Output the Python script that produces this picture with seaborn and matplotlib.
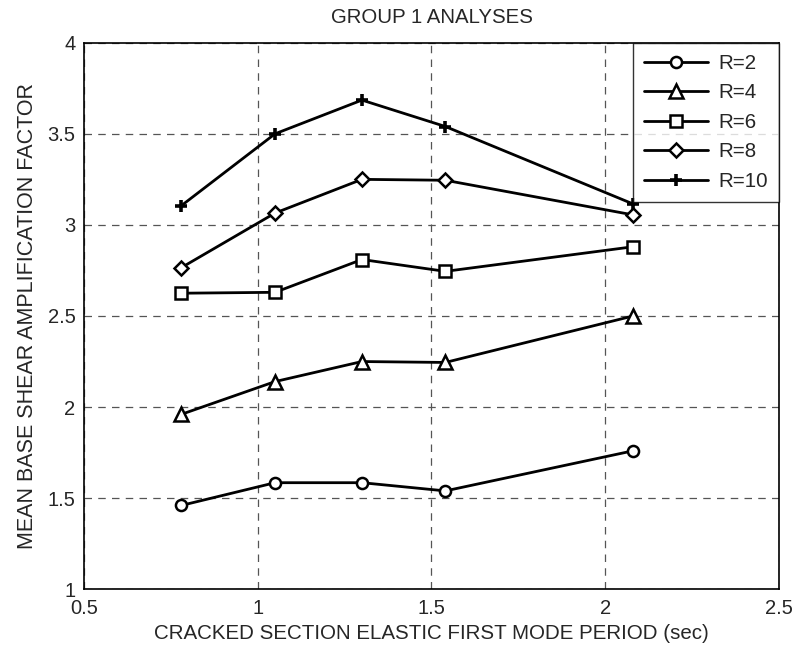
import matplotlib
matplotlib.use("Agg")
import matplotlib.pyplot as plt
import seaborn as sns

period = [0.78, 1.05, 1.30, 1.54, 2.08]
r2 = [1.46, 1.585, 1.585, 1.54, 1.76]
r4 = [1.96, 2.14, 2.25, 2.245, 2.50]
r6 = [2.625, 2.63, 2.81, 2.745, 2.88]
r8 = [2.765, 3.065, 3.25, 3.245, 3.055]
r10 = [3.105, 3.50, 3.685, 3.54, 3.115]
labels = ["R=2", "R=4", "R=6", "R=8", "R=10"]
series = [r2, r4, r6, r8, r10]
markers = ["o", "^", "s", "D", "+"]
msizes = [8, 10, 9, 7.5, 9]

sns.set_style("white")
plt.rcParams["font.family"] = ["Liberation Sans", "DejaVu Sans"]

fig = plt.figure(figsize=(7.99, 6.52), dpi=100)
ax = fig.add_axes([0.105, 0.0962, 0.87, 0.8383])

for vals, lab, m, ms in zip(series, labels, markers, msizes):
    mew = 2.6 if m == "+" else 1.8
    sns.lineplot(x=period, y=vals, ax=ax, color="black", linewidth=2,
                 marker=m, markersize=ms, markerfacecolor="white",
                 markeredgecolor="black", markeredgewidth=mew, label=lab)

ax.set_xlim(0.5, 2.5)
ax.set_ylim(1, 4)
ax.set_xticks([0.5, 1, 1.5, 2, 2.5])
ax.set_xticklabels(["0.5", "1", "1.5", "2", "2.5"])
ax.set_yticks([1, 1.5, 2, 2.5, 3, 3.5, 4])
ax.set_yticklabels(["1", "1.5", "2", "2.5", "3", "3.5", "4"])
ax.tick_params(labelsize=14.5, direction="in", length=5, color="black")
ax.tick_params(axis="y", pad=6)
ax.tick_params(axis="x", pad=7)
ax.grid(True, linestyle=(0, (6, 5)), color="#555555", linewidth=0.9)
for s in ax.spines.values():
    s.set_color("black")
    s.set_linewidth(1.2)

ax.set_xlabel("CRACKED SECTION ELASTIC FIRST MODE PERIOD (sec)", fontsize=14.8, labelpad=4)
ax.set_ylabel("MEAN BASE SHEAR AMPLIFICATION FACTOR", fontsize=15.5, labelpad=7)
ax.set_title("GROUP 1 ANALYSES", fontsize=14.7, pad=14)

leg = ax.legend(loc="upper right", fontsize=14.8, frameon=True, fancybox=False,
                edgecolor="black", borderaxespad=0, handlelength=3.1,
                handletextpad=0.5, labelspacing=0.51, borderpad=0.55)
leg.get_frame().set_linewidth(1.0)

fig.savefig("out.png", dpi=100)
